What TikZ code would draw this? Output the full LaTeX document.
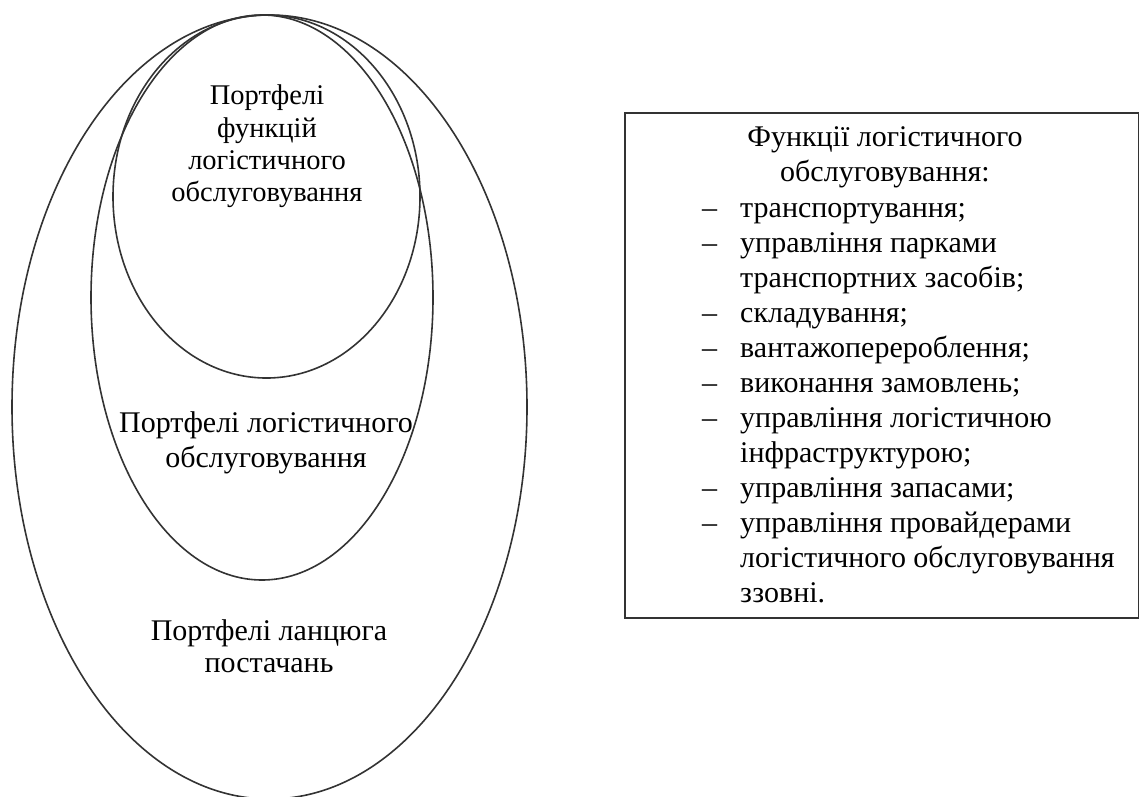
\documentclass[tikz,border=0pt]{standalone}
\usepackage{fontspec}
\setmainfont{Liberation Serif}
\usetikzlibrary{shapes.geometric}
\begin{document}
\begin{tikzpicture}[x=1pt,y=-1pt,
  oval/.style={draw=black!80, line width=1.6pt, ellipse, inner sep=0pt},
  lbl/.style={align=center, inner sep=0pt, font=\fontsize{30}{32}\selectfont},
  lbls/.style={align=center, inner sep=0pt, font=\fontsize{28.5}{32.3}\selectfont},
  lblw/.style={align=center, inner sep=0pt, font=\fontsize{30}{35}\selectfont},
  item/.style={anchor=base west, inner sep=0pt, font=\fontsize{30}{35}\selectfont},
  frame/.style={draw=black!80, line width=1.6pt, inner sep=0pt}]
\useasboundingbox (0,0) rectangle (1139,796);
% nested ellipses
\node[oval, minimum width=515pt, minimum height=784pt] (outer) at (269.5,407) {};
\node[oval, minimum width=342pt, minimum height=565pt] (middle) at (262,297.5) {};
\node[oval, minimum width=307pt, minimum height=363pt] (inner) at (266.5,196.5) {};
% ellipse labels
\node[lbls] (tinner) at (267,146.5) {Портфелі\\функцій\\логістичного\\обслуговування};
\node[lblw] (tmiddle) at (266,442.5) {Портфелі логістичного\\обслуговування};
\node[lbl] (touter) at (269,646) {Портфелі ланцюга\\постачань};
% box
\node[frame, anchor=north west, minimum width=514pt, minimum height=505pt] (box) at (624,112) {};
\node[lblw] (title) at (885,157.5) {Функції логістичного\\обслуговування:};
\foreach \t [count=\i from 0] in {транспортування;, управління парками, транспортних засобів;, складування;, вантажоперероблення;, виконання замовлень;, управління логістичною, інфраструктурою;, управління запасами;, управління провайдерами, логістичного обслуговування, ззовні.}
  \node[item] (item\i) at (740,{217+35*\i}) {\t};
\foreach \i in {0,1,3,4,5,6,8,9}
  \node[item] (dash\i) at (702,{217+35*\i}) {–};
\end{tikzpicture}
\end{document}
